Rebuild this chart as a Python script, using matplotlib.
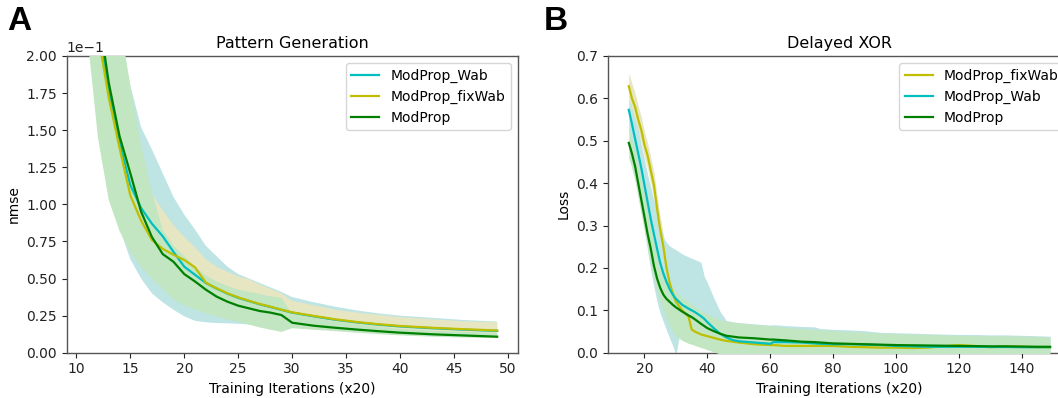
import matplotlib
matplotlib.use('Agg')
import matplotlib.pyplot as plt
from matplotlib.ticker import MultipleLocator

# ---- Pattern generation (nmse) ----
iters_a = [11, 12, 13, 14, 15, 16, 17, 18, 19, 20, 21, 22, 23, 24, 25, 26, 27, 28, 29, 30,
           32, 34, 36, 38, 40, 43, 46, 49]

wab_a = [0.295, 0.222, 0.177, 0.142, 0.113, 0.0975, 0.087, 0.0785, 0.068, 0.058, 0.0525, 0.047,
         0.0432, 0.0398, 0.037, 0.0348, 0.0326, 0.0308, 0.0289, 0.027,
         0.0245, 0.0222, 0.0204, 0.0189, 0.0177, 0.0165, 0.0155, 0.0147]
wab_a_hi = [0.33, 0.28, 0.25, 0.215, 0.18, 0.152, 0.137, 0.121, 0.105, 0.093, 0.083, 0.072,
            0.065, 0.058, 0.053, 0.050, 0.047, 0.044, 0.041, 0.0375,
            0.034, 0.031, 0.0285, 0.0265, 0.025, 0.0235, 0.022, 0.021]
wab_a_lo = [0.26, 0.16, 0.108, 0.084, 0.063, 0.050, 0.040, 0.034, 0.029, 0.0245, 0.0215, 0.0205,
            0.020, 0.0198, 0.0195, 0.019, 0.0188, 0.0185, 0.018, 0.0175,
            0.0165, 0.0155, 0.0145, 0.0138, 0.013, 0.0125, 0.012, 0.0115]

fix_a = [0.29, 0.215, 0.172, 0.138, 0.106, 0.089, 0.076, 0.070, 0.066, 0.0625, 0.0575, 0.0472,
         0.0434, 0.040, 0.0373, 0.035, 0.0328, 0.031, 0.029, 0.0272,
         0.0248, 0.0225, 0.0207, 0.0192, 0.018, 0.0168, 0.0158, 0.015]
fix_a_hi = [0.32, 0.24, 0.195, 0.16, 0.13, 0.12, 0.107, 0.096, 0.086, 0.078, 0.071, 0.063,
            0.058, 0.0545, 0.0515, 0.0495, 0.046, 0.043, 0.040, 0.035,
            0.032, 0.029, 0.027, 0.0255, 0.024, 0.0225, 0.0212, 0.0205]
fix_a_lo = [0.25, 0.18, 0.145, 0.115, 0.085, 0.070, 0.050, 0.045, 0.040, 0.036, 0.033, 0.030,
            0.027, 0.025, 0.0235, 0.0225, 0.0215, 0.0205, 0.0195, 0.019,
            0.0175, 0.016, 0.015, 0.014, 0.0133, 0.0125, 0.012, 0.0115]

mp_a = [0.30, 0.232, 0.182, 0.146, 0.121, 0.095, 0.078, 0.0665, 0.0613, 0.053, 0.048, 0.0425,
        0.0378, 0.0344, 0.0317, 0.0299, 0.0281, 0.027, 0.0254, 0.0202,
        0.0182, 0.0168, 0.0156, 0.0145, 0.0135, 0.0124, 0.0116, 0.0108]
mp_a_hi = [0.36, 0.29, 0.255, 0.225, 0.18, 0.14, 0.108, 0.083, 0.072, 0.065, 0.058, 0.052,
           0.048, 0.045, 0.0425, 0.041, 0.0395, 0.038, 0.037, 0.026,
           0.0235, 0.021, 0.019, 0.0175, 0.016, 0.0148, 0.014, 0.0135]
mp_a_lo = [0.215, 0.145, 0.103, 0.082, 0.068, 0.058, 0.050, 0.043, 0.036, 0.032, 0.029, 0.0265,
           0.0245, 0.0225, 0.021, 0.019, 0.017, 0.0155, 0.014, 0.0165,
           0.0155, 0.0145, 0.0135, 0.0125, 0.0117, 0.0108, 0.0102, 0.0098]

# ---- Delayed XOR (loss) ----
iters_b = [15, 16, 17, 18, 19, 20, 21, 22, 23, 24, 25, 26, 27, 28, 29, 30,
           31, 32, 34, 35, 36, 38, 39, 40, 42, 44, 46, 48, 50,
           55, 60, 61, 65, 70, 74, 76, 80, 85, 90, 95, 100, 105, 110, 115, 120, 125, 130, 135,
           140, 145, 149]

fix_b = [0.629, 0.60, 0.58, 0.55, 0.525, 0.49, 0.465, 0.43, 0.395, 0.34, 0.29, 0.25, 0.20, 0.165,
         0.14, 0.12,
         0.11, 0.10, 0.085, 0.055, 0.05, 0.043, 0.041, 0.039, 0.035, 0.031, 0.028, 0.026, 0.024,
         0.020, 0.018, 0.018, 0.016, 0.016, 0.016, 0.016, 0.016, 0.014, 0.013, 0.012, 0.012,
         0.011, 0.012, 0.015, 0.018, 0.016, 0.013, 0.015, 0.014, 0.013, 0.013]
fix_b_hi = [0.66, 0.635, 0.612, 0.582, 0.555, 0.52, 0.495, 0.46, 0.425, 0.37, 0.32, 0.28, 0.23,
            0.19, 0.16, 0.14,
            0.13, 0.118, 0.10, 0.07, 0.064, 0.055, 0.052, 0.05, 0.045, 0.04, 0.037, 0.034, 0.032,
            0.028, 0.025, 0.025, 0.023, 0.022, 0.022, 0.022, 0.021, 0.019, 0.018, 0.017, 0.017,
            0.016, 0.017, 0.02, 0.023, 0.021, 0.018, 0.02, 0.019, 0.018, 0.018]
fix_b_lo = [0.60, 0.57, 0.548, 0.518, 0.495, 0.46, 0.435, 0.40, 0.365, 0.31, 0.26, 0.22, 0.17,
            0.14, 0.12, 0.10,
            0.09, 0.082, 0.07, 0.04, 0.036, 0.031, 0.03, 0.028, 0.025, 0.022, 0.019, 0.018, 0.016,
            0.012, 0.011, 0.011, 0.009, 0.01, 0.01, 0.01, 0.011, 0.009, 0.008, 0.007, 0.007,
            0.006, 0.007, 0.01, 0.013, 0.011, 0.008, 0.01, 0.009, 0.008, 0.008]

wab_b = [0.573, 0.54, 0.505, 0.47, 0.435, 0.395, 0.355, 0.315, 0.28, 0.245, 0.212, 0.187, 0.167,
         0.15, 0.137, 0.127,
         0.12, 0.113, 0.104, 0.10, 0.096, 0.086, 0.08, 0.072, 0.058, 0.045, 0.036, 0.03, 0.027,
         0.024, 0.021, 0.025, 0.025, 0.024, 0.022, 0.021, 0.02, 0.02, 0.019, 0.018, 0.016,
         0.015, 0.014, 0.014, 0.014, 0.014, 0.0135, 0.0135, 0.013, 0.013, 0.013]
wab_b_hi = [0.60, 0.575, 0.55, 0.525, 0.49, 0.455, 0.42, 0.39, 0.36, 0.33, 0.30, 0.272, 0.26,
            0.252, 0.247, 0.243,
            0.238, 0.233, 0.226, 0.223, 0.22, 0.213, 0.18, 0.165, 0.13, 0.098, 0.076, 0.073, 0.071,
            0.068, 0.065, 0.066, 0.064, 0.062, 0.061, 0.057, 0.055, 0.054, 0.052, 0.048, 0.047,
            0.046, 0.045, 0.044, 0.043, 0.043, 0.042, 0.042, 0.041, 0.04, 0.039]
wab_b_lo = [0.525, 0.495, 0.455, 0.40, 0.345, 0.29, 0.24, 0.195, 0.155, 0.12, 0.093, 0.073, 0.053,
            0.034, 0.016, -0.005,
            0.036, 0.031, 0.025, 0.022, 0.019, 0.014, 0.012, 0.009, 0.004, -0.002, -0.006, -0.008,
            -0.008, -0.008, -0.008, -0.008, -0.008, -0.008, -0.008, -0.008, -0.008, -0.008,
            -0.008, -0.008, -0.008, -0.008, -0.008, -0.008, -0.008, -0.008, -0.008, -0.008,
            -0.008, -0.008, -0.008]

mp_b = [0.495, 0.47, 0.44, 0.40, 0.36, 0.32, 0.28, 0.245, 0.205, 0.175, 0.153, 0.137, 0.127,
        0.12, 0.113, 0.107,
        0.102, 0.097, 0.088, 0.084, 0.079, 0.068, 0.063, 0.058, 0.051, 0.045, 0.04, 0.038, 0.036,
        0.034, 0.031, 0.031, 0.029, 0.026, 0.025, 0.024, 0.022, 0.021, 0.02, 0.019, 0.018,
        0.0175, 0.017, 0.0165, 0.016, 0.0155, 0.015, 0.015, 0.0145, 0.014, 0.014]
mp_b_hi = [0.53, 0.505, 0.475, 0.44, 0.405, 0.37, 0.335, 0.30, 0.265, 0.23, 0.20, 0.178, 0.165,
           0.156, 0.149, 0.143,
           0.137, 0.131, 0.12, 0.115, 0.11, 0.099, 0.095, 0.091, 0.084, 0.078, 0.074, 0.072, 0.07,
           0.067, 0.064, 0.063, 0.06, 0.057, 0.055, 0.054, 0.052, 0.05, 0.048, 0.046, 0.045,
           0.044, 0.043, 0.042, 0.041, 0.0405, 0.04, 0.0395, 0.039, 0.038, 0.037]
mp_b_lo = [0.46, 0.435, 0.405, 0.365, 0.325, 0.285, 0.245, 0.21, 0.175, 0.145, 0.12, 0.10, 0.08,
           0.063, 0.05, 0.04,
           0.034, 0.029, 0.022, 0.02, 0.017, 0.012, 0.01, 0.007, 0.002, -0.003, -0.008, -0.01,
           -0.01, -0.01, -0.01, -0.01, -0.01, -0.01, -0.01, -0.01, -0.01, -0.01, -0.01, -0.01,
           -0.01, -0.01, -0.01, -0.01, -0.01, -0.01, -0.01, -0.01, -0.01, -0.01, -0.01]

C_WAB, C_FIX, C_MP = 'c', 'y', 'g'
F_WAB, F_FIX, F_MP = '#bee4e4', '#e6e6c2', '#c1e6c1'
SPINE = '#555555'


def style_axes(ax):
    for s in ax.spines.values():
        s.set_color(SPINE)
        s.set_linewidth(1.0)
    ax.tick_params(colors='#222222', labelsize=10)


fig = plt.figure(figsize=(10.58, 3.98), dpi=100)
ax1 = fig.add_axes([0.0630, 0.1138, 0.4263, 0.7455])
ax2 = fig.add_axes([0.5744, 0.1138, 0.4380, 0.7455])

# Panel A
ax1.fill_between(iters_a, wab_a_lo, wab_a_hi, color=F_WAB, lw=0, zorder=1)
ax1.fill_between(iters_a, fix_a_lo, fix_a_hi, color=F_FIX, lw=0, zorder=2)
ax1.fill_between(iters_a, mp_a_lo, mp_a_hi, color=F_MP, lw=0, zorder=3)
ax1.plot(iters_a, wab_a, color=C_WAB, lw=1.6, label='ModProp_Wab', zorder=4)
ax1.plot(iters_a, fix_a, color=C_FIX, lw=1.6, label='ModProp_fixWab', zorder=5)
ax1.plot(iters_a, mp_a, color=C_MP, lw=1.6, label='ModProp', zorder=6)
ax1.set_ylim(0, 0.2)
ax1.yaxis.set_major_locator(MultipleLocator(0.025))
ax1.ticklabel_format(axis='y', style='sci', scilimits=(0, 0))
ax1.yaxis.get_offset_text().set_fontsize(10)
ax1.set_title('Pattern Generation', fontsize=11.5)
ax1.set_xlabel('Training Iterations (x20)', fontsize=10)
ax1.set_ylabel('nmse', fontsize=10)
ax1.legend(loc='upper right', fontsize=10)
style_axes(ax1)

# Panel B
ax2.fill_between(iters_b, fix_b_lo, fix_b_hi, color=F_FIX, lw=0, zorder=1)
ax2.fill_between(iters_b, wab_b_lo, wab_b_hi, color=F_WAB, lw=0, zorder=2)
ax2.fill_between(iters_b, mp_b_lo, mp_b_hi, color=F_MP, lw=0, zorder=3)
ax2.plot(iters_b, fix_b, color=C_FIX, lw=1.6, label='ModProp_fixWab', zorder=4)
ax2.plot(iters_b, wab_b, color=C_WAB, lw=1.6, label='ModProp_Wab', zorder=5)
ax2.plot(iters_b, mp_b, color=C_MP, lw=1.6, label='ModProp', zorder=6)
ax2.set_ylim(0, 0.7)
ax2.set_title('Delayed XOR', fontsize=11.5)
ax2.set_xlabel('Training Iterations (x20)', fontsize=10)
ax2.set_ylabel('Loss', fontsize=10)
ax2.legend(loc='upper right', fontsize=10)
style_axes(ax2)

# panel letters
fig.text(0.007, 0.985, 'A', fontsize=24, fontweight='bold', family='Liberation Sans',
         va='top', ha='left')
fig.text(0.514, 0.985, 'B', fontsize=24, fontweight='bold', family='Liberation Sans',
         va='top', ha='left')

fig.savefig('out.png', dpi=100)
